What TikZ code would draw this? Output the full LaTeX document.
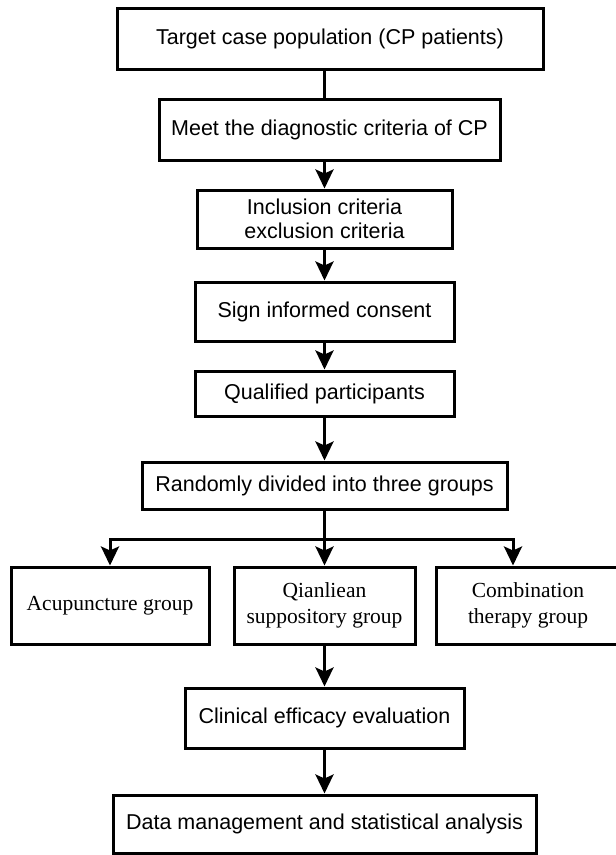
\documentclass[tikz,border=0pt]{standalone}
\usepackage{fontspec}
\setmainfont{Liberation Serif}
\setsansfont{Liberation Sans}
\usetikzlibrary{arrows.meta}

\begin{document}
\begin{tikzpicture}[->,>={Stealth[length=19pt,width=18pt,inset=4pt]},line width=3pt,x=1pt,y=-1pt,
        box/.style={shape=rectangle,draw=black,inner sep=0pt,align=center,
            font=\sffamily\fontsize{21.5}{24}\selectfont},
        grp/.style={box,font=\rmfamily\fontsize{21.5}{26.5}\selectfont,minimum height=77pt}]
            \useasboundingbox (0, 0) rectangle (616, 855);
            \node[box,minimum width=426pt,minimum height=61pt](target)at(330, 38.5){Target case population (CP patients)};
            \node[box,minimum width=341pt,minimum height=61pt](meet)at(329.5, 129.5){Meet the diagnostic criteria of CP};
            \node[box,minimum width=255pt,minimum height=58pt](incl)at(324.5, 219){Inclusion criteria\\exclusion criteria};
            \node[box,minimum width=259pt,minimum height=59pt](sign)at(324.5, 311.5){Sign informed consent};
            \node[box,minimum width=259pt,minimum height=45pt](qual)at(324.5, 393.5){Qualified participants};
            \node[box,minimum width=365pt,minimum height=47pt](rand)at(324.5, 485.5){Randomly divided into three groups};
            \node[grp,minimum width=198pt](acup)at(110, 605.5){Acupuncture group};
            \node[grp,minimum width=181pt](qian)at(324.5, 605.5){Qianliean\\suppository group};
            \node[grp,minimum width=184pt](comb)at(528, 605.5){Combination\\therapy group};
            \node[box,minimum width=279pt,minimum height=60pt](clin)at(324.5, 718){Clinical efficacy evaluation};
            \node[box,minimum width=423pt,minimum height=58pt](data)at(324.5, 824){Data management and statistical analysis};
            \coordinate(split)at(324.5, 539);
            \draw[-](target.south -| incl.north) -- (meet.north -| incl.north);
            \draw(meet.south -| incl.north) -- (incl);
            \path(incl) edge (sign)
            (sign) edge (qual)
            (qual) edge (rand);
            \draw(rand) -- (split) -| (acup);
            \draw(split) -- (qian);
            \draw(split) -| ([xshift=-15pt]comb.north);
            \path(qian) edge (clin)
            (clin) edge (data);
        \end{tikzpicture}
\end{document}
